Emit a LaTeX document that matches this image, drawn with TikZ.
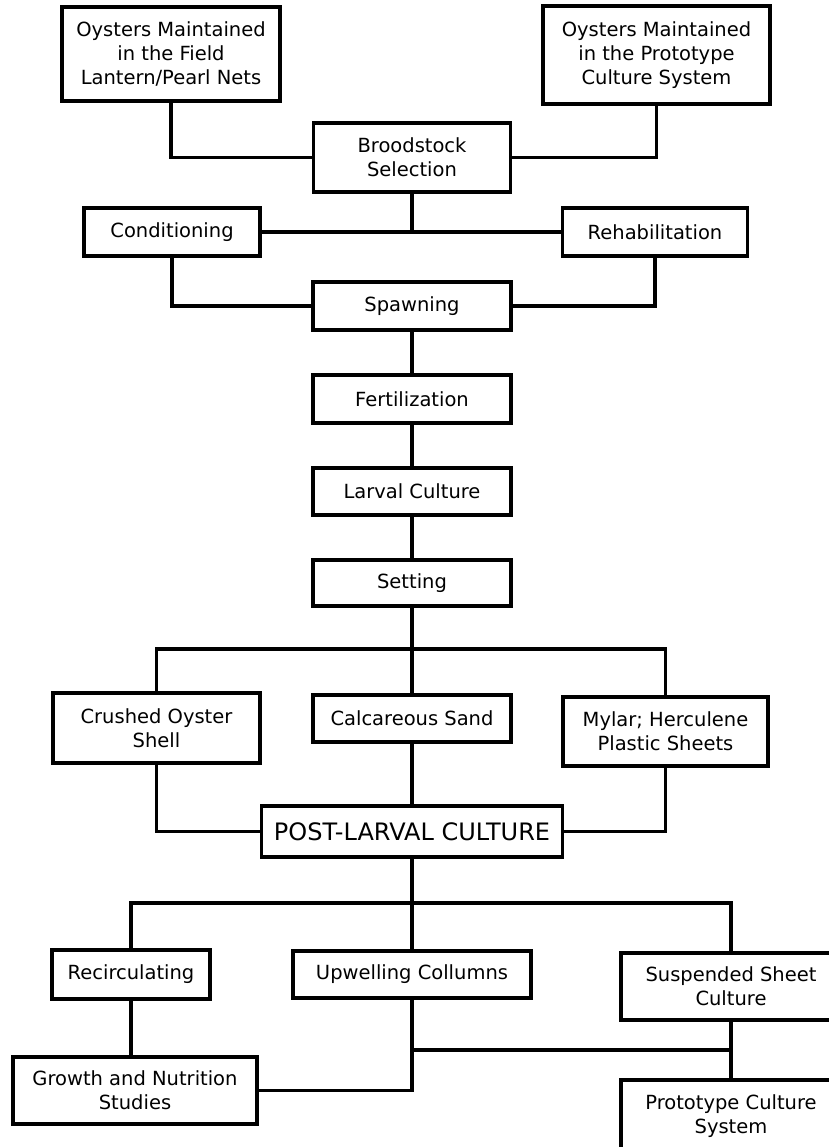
\documentclass[tikz,border=0pt]{standalone}
\usepackage{fontspec}
\setmainfont{DejaVu Sans}
\usepackage{tikz}

\tikzset{
    box/.style 2 args={draw, line width=1.8pt, inner sep=0pt, align=center,
        minimum width=#1*0.5pt, minimum height=#2*0.5pt,
        font=\fontsize{9.75}{12}\selectfont},
    link/.style={line width=1.6pt}
}

\begin{document}
\begin{tikzpicture}[x=0.5pt, y=-0.5pt, semithick]
            \useasboundingbox (0, 0) rectangle (829, 1147);
            \clip (0, 0) rectangle (829, 1147);
            \node[box={218}{94}] (fieldnets) at (171, 54) {Oysters Maintained\\in the Field\\Lantern/Pearl Nets};
            \node[box={227}{98}] (protonets) at (656.5, 55) {Oysters Maintained\\in the Prototype\\Culture System};
            \node[box={197}{69}] (brood) at (412, 157.5) {Broodstock\\Selection};
            \node[box={176}{48}] (cond) at (172, 232) {Conditioning};
            \node[box={185}{48}] (rehab) at (655, 232) {Rehabilitation};
            \node[box={198}{48}] (spawn) at (412, 306) {Spawning};
            \node[box={198}{48}] (fert) at (412, 399) {Fertilization};
            \node[box={198}{47}] (larval) at (412, 491.5) {Larval Culture};
            \node[box={198}{46}] (setting) at (412, 583) {Setting};
            \node[box={207}{70}] (crushed) at (156.5, 728) {Crushed Oyster\\Shell};
            \node[box={198}{47}] (calc) at (412, 718.5) {Calcareous Sand};
            \node[box={205}{69}] (mylar) at (665.5, 731.5) {Mylar; Herculene\\Plastic Sheets};
            \node[box={301}{51}, font=\fontsize{12}{14}\selectfont] (post) at (412, 831.5) {POST-LARVAL CULTURE};
            \node[box={158}{49}] (recirc) at (131, 974.5) {Recirculating};
            \node[box={238}{47}] (upwell) at (412, 974.5) {Upwelling Collumns};
            \node[box={220}{67}] (susp) at (731, 986.5) {Suspended Sheet\\Culture};
            \node[box={244}{67}] (growth) at (135, 1090.5) {Growth and Nutrition\\Studies};
            \node[box={220}{72}] (proto) at (731, 1116) {Prototype Culture\\System};
            \coordinate (bus1) at (412, 649);
            \coordinate (bus2) at (412, 903);
            \coordinate (bus3) at (412, 1050);
            \draw[link] (fieldnets.south) |- (brood.west);
            \draw[link] (protonets.south) |- (brood.east);
            \draw[link] (brood.south) -- (brood.south |- cond.east);
            \draw[link] (cond.east) -- (rehab.west);
            \draw[link] (cond.south) |- (spawn.west);
            \draw[link] (rehab.south) |- (spawn.east);
            \draw[link] (spawn) -- (fert);
            \draw[link] (fert) -- (larval);
            \draw[link] (larval) -- (setting);
            \draw[link] (setting) -- (calc);
            \draw[link] (crushed.north) |- (bus1) -| (mylar.north);
            \draw[link] (crushed.south) |- (post.west);
            \draw[link] (mylar.south) |- (post.east);
            \draw[link] (calc) -- (post);
            \draw[link] (post) -- (upwell);
            \draw[link] (recirc.north) |- (bus2) -| (susp.north);
            \draw[link] (recirc.south) -- (recirc.south |- growth.north);
            \draw[link] (upwell.south) |- (growth.east);
            \draw[link] (bus3) -- (susp.south |- bus3);
            \draw[link] (susp) -- (proto);
        \end{tikzpicture}
\end{document}
